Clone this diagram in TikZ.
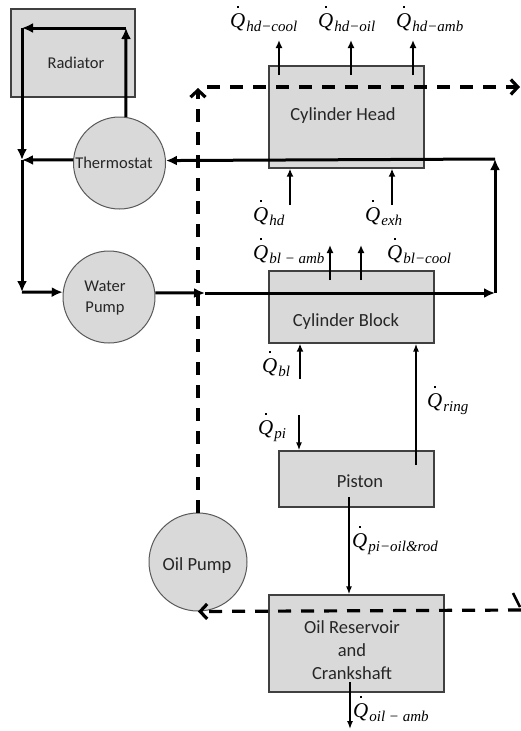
\documentclass[tikz,border=0pt]{standalone}
\usepackage{fontspec}
\setmainfont{Carlito}
\newfontfamily\tms{Liberation Serif}
\usetikzlibrary{arrows.meta}
\definecolor{boxgray}{HTML}{D9D9D9}
\newcommand\hq[1]{{\tms\itshape\fontsize{21}{21}\selectfont Q\llap{\raisebox{0.9em}[0pt][0pt]{\rule{2.3pt}{2.3pt}}\kern0.28em}\kern1pt\raisebox{-4pt}{\fontsize{15}{15}\selectfont #1}}}
\begin{document}
\begin{tikzpicture}[x=1pt,y=-1pt,
 box/.style={draw=black!75, line width=1.3pt, fill=boxgray, inner sep=0pt, rectangle},
 disc/.style={draw=black!65, line width=1pt, fill=boxgray, circle, inner sep=0pt},
 lbl/.style={font=\fontsize{18.5}{23}\selectfont, text=black!85, align=center, inner sep=0pt},
 slbl/.style={font=\fontsize{16.5}{21}\selectfont, text=black!85, align=center, inner sep=0pt},
 cool/.style={line width=3pt, -{Latex[length=11pt,width=10pt]}},
 oil/.style={line width=3.2pt, dash pattern=on 13pt off 10pt, -{Straight Barb[length=7pt,width=15pt]}},
 heat/.style={line width=2.3pt, -{Latex[length=8pt,width=7pt]}},
 thinarr/.style={line width=1.4pt, -{Latex[length=8pt,width=6pt]}},
 q/.style={anchor=base west, inner sep=0pt}
]
\useasboundingbox[fill=white] (0,0) rectangle (521,731);

% blocks
\node[box, minimum width=124pt, minimum height=88pt] (rad) at (73,53) {};
\node[box, minimum width=155pt, minimum height=102pt] (head) at (346.5,117) {};
\node[box, minimum width=165pt, minimum height=72pt] (block) at (351.5,307) {};
\node[box, minimum width=155pt, minimum height=56pt] (piston) at (356.5,479) {};
\node[box, minimum width=175pt, minimum height=97pt] (res) at (356.5,643.5) {};
\node[disc, minimum size=92pt] (thermo) at (119.5,163) {};
\node[disc, minimum size=92pt] (wpump) at (109,297) {};
\node[disc, minimum size=98pt] (opump) at (198,562) {};

% texts
\node[slbl] (radt) at (76,63) {Radiator};
\node[slbl] (thermot) at (114,163) {Thermostat};
\node[slbl] (wpumpt) at (105,298) {Water\\Pump};
\node[lbl] (headt) at (343,116) {Cylinder Head};
\node[lbl] (blockt) at (346,322) {Cylinder Block};
\node[lbl] (pistont) at (360,481) {Piston};
\node[lbl] (rest) at (352,650) {Oil Reservoir\\and\\Crankshaft};
\node[lbl] (opumpt) at (197,566) {Oil Pump};

% coolant loop
\coordinate (r1) at (126,28);
\coordinate (r2) at (22,28);
\coordinate (j1) at (22,160);
\coordinate (j2) at (22,292);
\coordinate (wm) at (205,293);
\coordinate (c1) at (495,293);
\coordinate (c2) at (495,159);
\draw[cool] (thermo.82) -- (r1);
\draw[cool] (r1) -- (r2);
\draw[cool] (r2) -- (j1);
\draw[cool] (thermo.176) -- (j1);
\draw[cool] (j1) -- (j2);
\draw[cool] (j2) -- (wpump.174);
\draw[cool] (wpump.5) -- (wm);
\draw[cool] (wm) -- (c1);
\draw[cool] (c1) -- (c2);
\draw[cool] (c2) -- (thermo.3);

% oil loop
\coordinate (o1) at (198,88);
\coordinate (o2) at (207,87);
\coordinate (o3) at (520,87);
\coordinate (o4) at (521,610);
\coordinate (s1) at (513,593);
\coordinate (s2) at (520,607);
\draw[oil] (opump.north) -- (o1);
\draw[oil] (o2) -- (o3);
\draw[oil] (o4) -- (opump.south);
\draw[line width=2.5pt] (s1) -- (s2);

% heat flows
\coordinate (a1) at (279,75); \coordinate (b1) at (279,40);
\coordinate (a2) at (351,75); \coordinate (b2) at (351,40);
\coordinate (a3) at (413,75); \coordinate (b3) at (413,40);
\draw[heat] (a1) -- (b1);
\draw[heat] (a2) -- (b2);
\draw[heat] (a3) -- (b3);
\coordinate (a4) at (290,205);
\coordinate (a5) at (392,205);
\draw[heat] (a4) -- (a4 |- head.south);
\draw[heat] (a5) -- (a5 |- head.south);
\coordinate (a6) at (330,280); \coordinate (b6) at (330,245);
\coordinate (a7) at (361,280); \coordinate (b7) at (361,245);
\draw[heat] (a6) -- (b6);
\draw[heat] (a7) -- (b7);
\coordinate (a8) at (300,379);
\draw[heat] (a8) -- (a8 |- block.south);
\coordinate (a9) at (416,465);
\draw[thinarr] (a9) -- (a9 |- block.south);
\coordinate (a10) at (299,415);
\draw[thinarr] (a10) -- (a10 |- piston.north);
\coordinate (a11) at (349,497);
\draw[thinarr] (a11) -- (a11 |- res.north);
\coordinate (a12) at (350,682); \coordinate (b12) at (350,729);
\draw[thinarr] (a12) -- (b12);

% heat labels
\node[q] (qhdcool) at (230,27) {\hq{hd−cool}};
\node[q] (qhdoil) at (318,27) {\hq{hd−oil}};
\node[q] (qhdamb) at (396,27) {\hq{hd−amb}};
\node[q] (qhd) at (253,221) {\hq{hd}};
\node[q] (qexh) at (365,221) {\hq{exh}};
\node[q] (qblamb) at (253,259) {\hq{bl − amb}};
\node[q] (qblcool) at (387,259) {\hq{bl−cool}};
\node[q] (qbl) at (262,372) {\hq{bl}};
\node[q] (qring) at (427,407) {\hq{ring}};
\node[q] (qpi) at (258,434) {\hq{pi}};
\node[q] (qpioil) at (352,547) {\hq{pi−oil\&rod}};
\node[q] (qoilamb) at (353,717) {\hq{oil − amb}};
\end{tikzpicture}
\end{document}
